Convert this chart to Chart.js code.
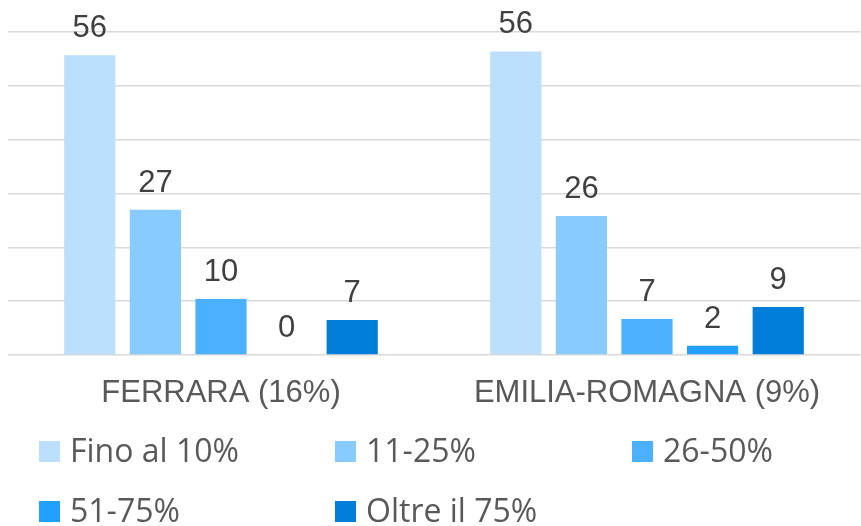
<!DOCTYPE html>
<html>
<head>
<meta charset="utf-8">
<script src="https://cdn.jsdelivr.net/npm/chart.js@4"></script>
<style>
  html, body { margin: 0; padding: 0; background: #fff; }
  #box { position: relative; width: 861px; height: 526px; }
</style>
</head>
<body>
<div id="box"><canvas id="c"></canvas></div>
<script>
const categories = ["FERRARA (16%)", "EMILIA-ROMAGNA (9%)"];
const seriesNames = ["Fino al 10%", "11-25%", "26-50%", "51-75%", "Oltre il 75%"];
const finoAl10 = [55.7, 56.4];
const da11a25 = [27.0, 25.8];
const da26a50 = [10.4, 6.7];
const da51a75 = [0, 1.7];
const oltre75 = [6.5, 8.9];
const yTicks = [0, 10, 20, 30, 40, 50, 60];
const colors = ["#BBDFFD", "#88CBFE", "#4BB1FE", "#22A0FD", "#017DDA"];

const seriesValues = [finoAl10, da11a25, da26a50, da51a75, oltre75];

const labelPlugin = {
  id: "barLabels",
  afterDatasetsDraw(chart) {
    const ctx = chart.ctx;
    ctx.save();
    ctx.font = "31px 'Liberation Sans', Arial, sans-serif";
    ctx.fillStyle = "#404040";
    ctx.textAlign = "center";
    ctx.textBaseline = "alphabetic";
    chart.data.datasets.forEach((ds, i) => {
      const meta = chart.getDatasetMeta(i);
      meta.data.forEach((bar, j) => {
        const v = ds.data[j];
        ctx.fillText(String(Math.round(v)), bar.x, bar.y - 18);
      });
    });
    ctx.restore();
  }
};

const legendPlugin = {
  id: "gridLegend",
  afterDraw(chart) {
    const ctx = chart.ctx;
    const cols = [39, 335, 632];
    const rows = [462, 522];
    ctx.save();
    ctx.font = "32px 'Open Sans', 'Noto Sans', sans-serif";
    ctx.fillStyle = "#595959";
    ctx.textAlign = "left";
    ctx.textBaseline = "alphabetic";
    chart.data.datasets.forEach((ds, i) => {
      const x = cols[i % 3];
      const y = rows[Math.floor(i / 3)];
      ctx.fillStyle = ds.backgroundColor;
      ctx.fillRect(x, y - 21, 21, 21);
      ctx.fillStyle = "#595959";
      ctx.fillText(ds.label, x + 31, y);
    });
    ctx.restore();
  }
};

new Chart(document.getElementById("c"), {
  type: "bar",
  data: {
    labels: categories,
    datasets: seriesNames.map((n, i) => ({
      label: n,
      data: seriesValues[i],
      backgroundColor: colors[i],
      borderWidth: 0,
      categoryPercentage: 0.77,
      barPercentage: 0.78
    }))
  },
  options: {
    responsive: true,
    maintainAspectRatio: false,
    animation: false,
    layout: { padding: { left: 8, right: 1, top: 32, bottom: 106 } },
    plugins: { legend: { display: false }, tooltip: { enabled: false } },
    scales: {
      x: {
        grid: { display: false },
        border: { display: false },
        ticks: {
          color: "#595959",
          font: { family: "'Liberation Sans', Arial, sans-serif", size: 31 },
          padding: 12,
          maxRotation: 0,
          autoSkip: false
        },
        afterFit(axis) { axis.height = 65; }
      },
      y: {
        min: 0, max: 60,
        afterBuildTicks(axis) { axis.ticks = yTicks.map(v => ({ value: v })); },
        ticks: { display: false },
        border: { display: false },
        grid: { color: "#D9D9D9", lineWidth: 1.5, drawTicks: false }
      }
    }
  },
  plugins: [labelPlugin, legendPlugin]
});
</script>
</body>
</html>
